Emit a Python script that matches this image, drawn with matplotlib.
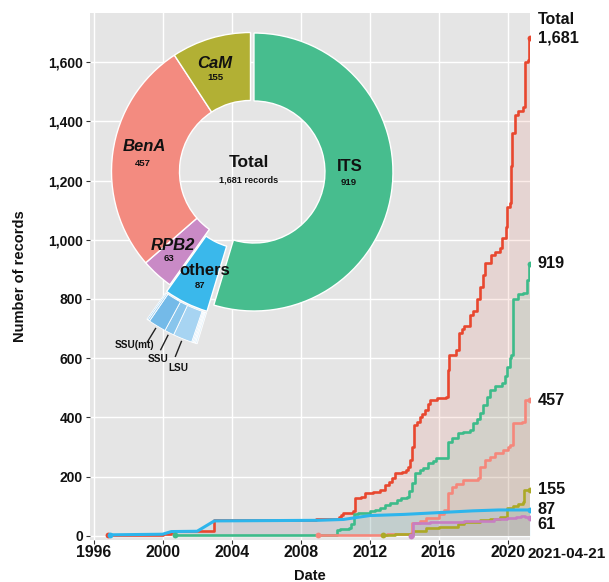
import numpy as np
import matplotlib
matplotlib.use("Agg")
import matplotlib.pyplot as plt
import matplotlib.ticker as mticker
from matplotlib.patches import Wedge

plt.rcParams["font.family"] = ["Liberation Sans", "DejaVu Sans"]

# ---- cumulative record counts (decimal year of each increase, count after it) ----
END = 2021 + 110 / 365  # 2021-04-21

total_dates = [1996.85, 2000.0, 2000.5, 2000.71, 2002.0, 2003.0, 2008.9, 2009.6, 2010.2,
               2010.35, 2010.45, 2011.05, 2011.15, 2011.5, 2011.75, 2012.2, 2012.6, 2012.9,
               2013.1, 2013.3, 2013.5, 2013.9, 2014.1, 2014.2, 2014.35, 2014.45, 2014.6,
               2014.75, 2014.9, 2015.05, 2015.2, 2015.4, 2015.5, 2015.9, 2016.45, 2016.55,
               2016.6, 2017.0, 2017.2, 2017.35, 2017.5, 2017.8, 2018.0, 2018.2, 2018.4,
               2018.55, 2018.7, 2019.05, 2019.3, 2019.55, 2019.65, 2019.9, 2019.98, 2020.17,
               2020.2, 2020.23, 2020.42, 2020.6, 2020.9, 2021.0, 2021.2, 2021.27, END]
total_counts = [1, 5, 14, 16, 17, 52, 55, 58, 64, 70, 76, 82, 126, 132, 143, 148, 154, 171,
                180, 195, 211, 216, 222, 232, 256, 300, 374, 385, 400, 412, 425, 445, 458,
                465, 470, 560, 610, 627, 684, 700, 710, 745, 760, 800, 841, 880, 920, 948,
                960, 971, 1005, 1044, 1111, 1123, 1250, 1359, 1421, 1435, 1449, 1601, 1607,
                1681, 1681]

its_dates = [2000.71, 2010.0, 2010.1, 2010.3, 2010.8, 2010.95, 2011.1, 2011.3, 2011.6,
             2012.0, 2012.3, 2012.6, 2012.9, 2013.2, 2013.57, 2013.8, 2014.15, 2014.3,
             2014.45, 2014.63, 2014.9, 2015.1, 2015.4, 2015.7, 2015.88, 2016.56, 2016.8,
             2017.1, 2017.4, 2017.8, 2018.0, 2018.2, 2018.4, 2018.6, 2018.8, 2018.97,
             2019.3, 2019.65, 2019.85, 2019.94, 2020.13, 2020.22, 2020.32, 2020.6, 2020.9,
             2021.1, 2021.27, END]
its_counts = [1, 3, 18, 22, 26, 40, 72, 76, 78, 82, 86, 92, 104, 110, 120, 128, 132, 150,
              177, 211, 222, 230, 245, 252, 261, 318, 330, 346, 352, 357, 380, 395, 413,
              440, 470, 492, 505, 515, 540, 571, 599, 610, 800, 815, 821, 864, 919, 919]

bena_dates = [2009.0, 2011.0, 2013.0, 2014.4, 2014.45, 2014.9, 2015.3, 2016.0, 2016.3,
              2016.56, 2016.75, 2017.0, 2017.43, 2018.3, 2018.4, 2018.7, 2018.97, 2019.3,
              2019.74, 2020.0, 2020.13, 2020.3, 2020.81, 2021.0, END]
bena_counts = [1, 3, 5, 8, 42, 50, 60, 75, 87, 143, 165, 175, 188, 194, 233, 255, 267, 280,
               290, 300, 306, 380, 385, 457, 457]

cam_dates = [2012.79, 2013.5, 2014.5, 2015.3, 2016.0, 2017.1, 2017.5, 2018.4, 2019.0,
             2019.55, 2019.94, 2020.3, 2020.6, 2020.9, 2020.95, END]
cam_counts = [1, 5, 16, 25, 30, 40, 48, 53, 58, 64, 93, 100, 107, 115, 155, 155]

rpb2_dates = [2014.43, 2014.53, 2015.5, 2016.5, 2017.5, 2018.4, 2019.2, 2019.94, 2020.5,
              2020.8, 2021.0, 2021.2, END]
rpb2_counts = [0, 44, 46, 47, 49, 51, 55, 59, 62, 66, 64, 61, 61]

others_dates = [1996.95, 2000.0, 2000.5, 2002.0, 2003.0, 2009.0, 2010.5, 2011.3, 2012.0,
                2014.0, 2016.0, 2018.0, 2019.5, END]
others_counts = [3, 5, 14, 15, 50, 52, 55, 62, 68, 72, 78, 84, 87, 87]

# ---- donut composition ----
donut_names = ["ITS", "others", "RPB2", "BenA", "CaM"]
donut_values = [919, 87, 63, 457, 155]
donut_total = 1681

sub_names = ["", "", "", "", "LSU", "SSU", "SSU(mt)", "", ""]
sub_values = [3, 2, 2, 2, 30, 15, 28, 3, 2]

x_ticks = [1996, 2000, 2004, 2008, 2012, 2016, 2020]
y_ticks = [0, 200, 400, 600, 800, 1000, 1200, 1400, 1600]

# ---- styling ----
C_TOTAL = "#E8472F"
C_ITS = "#3DBB8A"
C_BENA = "#F5877B"
C_CAM = "#ACA926"
C_RPB2 = "#C77EC3"
C_OTH = "#2DB5EC"

W, H = 609, 582
fig = plt.figure(figsize=(W / 100, H / 100), dpi=100)
ax = fig.add_axes([90 / W, 1 - 540 / H, 440 / W, 527 / H])
ax.set_facecolor("#E5E5E5")
for s in ax.spines.values():
    s.set_visible(False)
ax.set_xlim(1995.79, END)
ax.set_ylim(-14.5, 1766)
ax.set_axisbelow(True)
ax.grid(True, color="white", lw=1.0)

# (dates, counts, colour, drawn as staircase?, line width)
series = [
    (total_dates, total_counts, C_TOTAL, True, 1.9),
    (its_dates, its_counts, C_ITS, True, 1.9),
    (bena_dates, bena_counts, C_BENA, True, 1.9),
    (cam_dates, cam_counts, C_CAM, True, 1.9),
    (rpb2_dates, rpb2_counts, C_RPB2, True, 1.9),
    (others_dates, others_counts, C_OTH, False, 2.2),
]
for d, v, c, stp, lw in series:
    ax.fill_between(d, 0, v, color=c, alpha=0.1, lw=0, step="post" if stp else None)
for d, v, c, stp, lw in series:
    ax.plot(d, v, color=c, lw=lw, drawstyle="steps-post" if stp else "default",
            solid_joinstyle="round", zorder=3)
    ax.plot([d[0], d[-1]], [v[0], v[-1]], "o", color=c, ms=4.2, zorder=4, mec="none")

ax.set_xticks(x_ticks)
ax.set_xticklabels([str(t) for t in x_ticks])
ax.set_yticks(y_ticks)
ax.yaxis.set_major_formatter(mticker.FuncFormatter(lambda x, p: f"{int(x):,}"))
ax.tick_params(axis="both", length=2.6, width=0.8, color="#333333")
ax.tick_params(axis="y", labelsize=10, pad=2.5)
ax.tick_params(axis="x", labelsize=11.4, pad=1.2)
for lab in ax.get_xticklabels() + ax.get_yticklabels():
    lab.set_fontweight("bold")
    lab.set_color("#111111")

ax.annotate("2021-04-21", xy=(END, 0), xycoords=("data", "axes fraction"),
            xytext=(-2, -5.2), textcoords="offset points", ha="left", va="top",
            fontsize=11, fontweight="bold", color="#111111", annotation_clip=False)

# end-of-line labels
end_labels = [("1,681", 1681, 0), ("919", 919, 0), ("457", 457, 0),
              ("155", 155, 0), ("87", 87, 0), ("61", 61, -5)]
for txt, val, dy in end_labels:
    ax.annotate(txt, xy=(END, val), xytext=(5.5, dy), textcoords="offset points",
                ha="left", va="center", fontsize=11.7, fontweight="bold",
                color="#111111", annotation_clip=False)
ax.annotate("Total", xy=(END, 1681), xytext=(5.5, 13.5), textcoords="offset points",
            ha="left", va="center", fontsize=11.5, fontweight="bold",
            color="#111111", annotation_clip=False)

fig.text(20 / W, 1 - 276 / H, "Number of records", rotation=90, ha="center", va="center",
         fontsize=10.5, fontweight="bold", color="#111111")
fig.text(310 / W, 1 - 576 / H, "Date", ha="center", va="center",
         fontsize=10.5, fontweight="bold", color="#111111")

# ---- donut overlay drawn in pixel space ----
dax = fig.add_axes([0, 0, 1, 1], zorder=5)
dax.set_xlim(0, W)
dax.set_ylim(H, 0)
dax.axis("off")
dax.patch.set_alpha(0)

cx, cy = 250.5, 171.5
r_out, r_in = 139, 71
donut_colors = ["#47BD8E", "#3AB8EB", "#C98AC6", "#F38B80", "#B2B034"]
explode = [3.5, 7.5, 0, 0, 0]


def offset(angle, dist):
    a = np.radians(angle)
    return dist * np.sin(a), -dist * np.cos(a)


start = 0.0
others_span = None
for name, val, col, ex in zip(donut_names, donut_values, donut_colors, explode):
    a1, a2 = start, start + val / donut_total * 360
    dx, dy = offset((a1 + a2) / 2, ex)
    dax.add_patch(Wedge((cx + dx, cy + dy), r_out, a1 - 90, a2 - 90, width=r_out - r_in,
                        fc=col, ec="white", lw=1.0))
    if name == "others":
        others_span = (a1, a2, cx + dx, cy + dy)
    start = a2

# sub-ring for the "others" slice
a1, a2, ocx, ocy = others_span
sub_colors = ["#E3F2FC", "#D3EBFA", "#C6E4F8", "#B9DEF6", "#A7D4F2", "#88C5EC", "#74BAE8",
              "#A2D2F2", "#86C3EC"]
sub_r0, sub_r1 = r_out + 1.5, r_out + 34
s = a1
sub_mid = {}
for nm, v, col in zip(sub_names, sub_values, sub_colors):
    e = s + v / sum(sub_values) * (a2 - a1)
    dax.add_patch(Wedge((ocx, ocy), sub_r1, s - 90, e - 90, width=sub_r1 - sub_r0,
                        fc=col, ec="white", lw=0.6))
    if nm:
        sub_mid[nm] = (s + e) / 2
    s = e

sub_text_pos = {"SSU(mt)": (135, 345), "SSU": (158, 359), "LSU": (178, 368)}
for nm, ang in sub_mid.items():
    p1 = offset(ang, sub_r1 + 3)
    p2 = offset(ang, sub_r1 + 19)
    dax.plot([ocx + p1[0], ocx + p2[0]], [ocy + p1[1], ocy + p2[1]], color="#222222", lw=1.0)
    tx, ty = sub_text_pos[nm]
    dax.text(tx, ty, nm, ha="center", va="center", fontsize=7.2, fontweight="bold",
             color="#111111")

# slice labels
slice_text = [
    ("ITS", "919", (350, 166.5), (348.5, 182.5), "normal"),
    ("BenA", "457", (144.5, 146.5), (142.5, 164), "italic"),
    ("CaM", "155", (215, 63.5), (215, 78), "italic"),
    ("RPB2", "63", (172.5, 245), (169.5, 258.5), "italic"),
    ("others", "87", (205, 270.5), (200, 286), "normal"),
]
for name, num, p_name, p_num, style in slice_text:
    dax.text(*p_name, name, ha="center", va="center", fontsize=12, fontweight="bold",
             style=style, color="#111111")
    dax.text(*p_num, num, ha="center", va="center", fontsize=6.8, fontweight="bold",
             color="#111111")

dax.text(248.5, 162.5, "Total", ha="center", va="center", fontsize=12.5, fontweight="bold",
         color="#111111")
dax.text(248.5, 180.5, f"{donut_total:,} records", ha="center", va="center", fontsize=6.6,
         fontweight="bold", color="#111111")

fig.savefig("out.png", dpi=100, facecolor="white")
